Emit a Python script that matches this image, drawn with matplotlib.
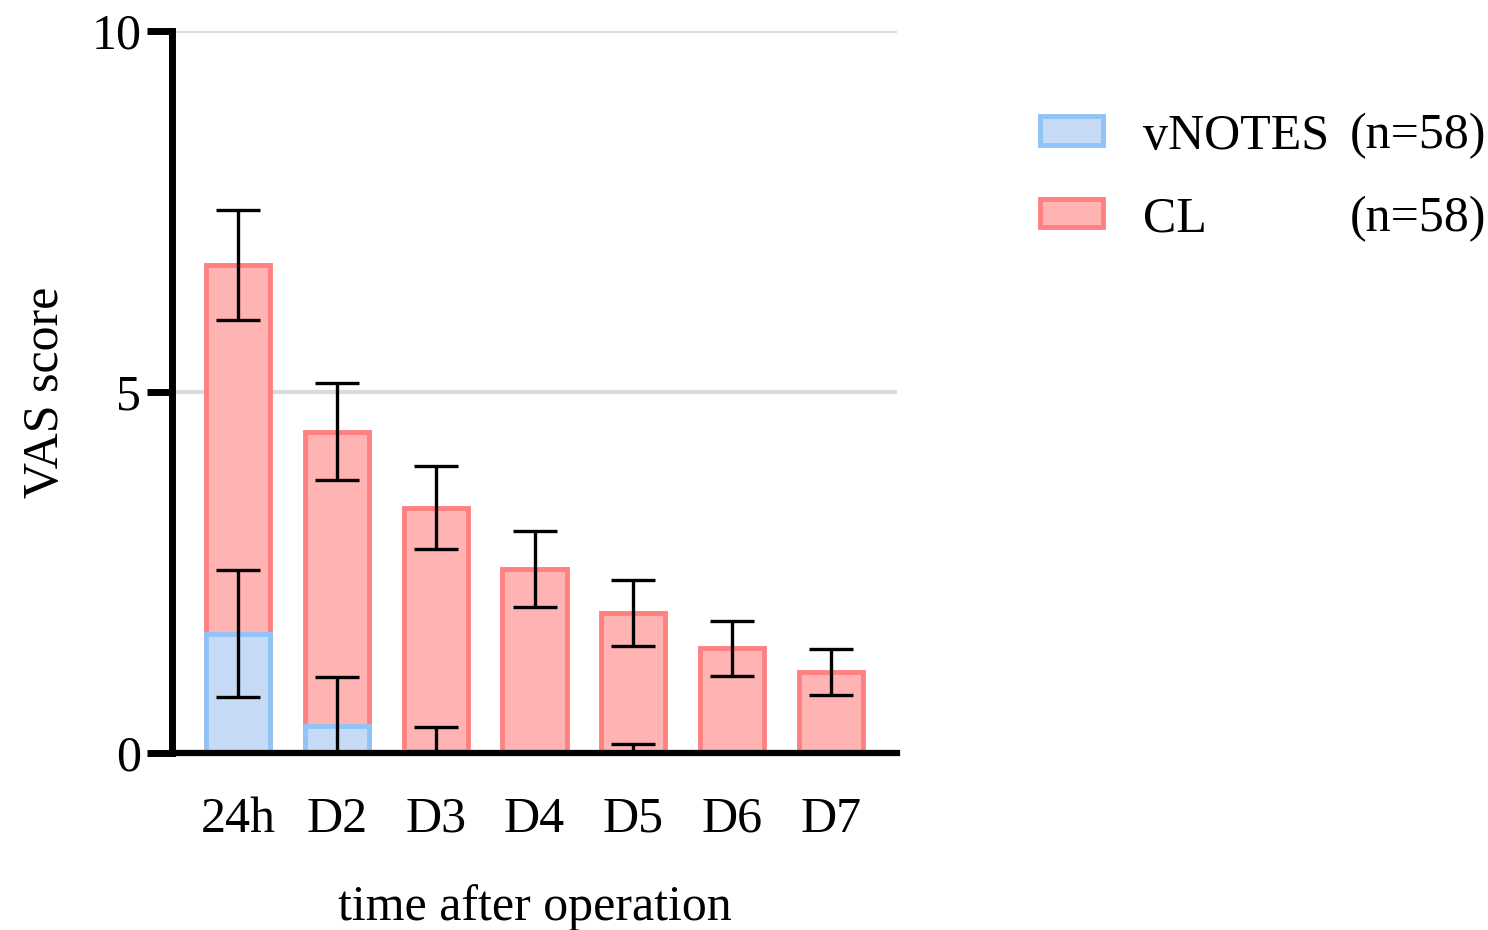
import matplotlib
matplotlib.use("Agg")
import matplotlib.pyplot as plt
import numpy as np
from matplotlib.patches import Patch

categories = ["24h", "D2", "D3", "D4", "D5", "D6", "D7"]
cl_mean = [6.76, 4.45, 3.40, 2.55, 1.94, 1.45, 1.12]
cl_sd = [0.76, 0.67, 0.58, 0.53, 0.46, 0.38, 0.32]
vn_mean = [1.65, 0.37, 0.03, 0.0, 0.02, 0.0, 0.0]
vn_sd = [0.88, 0.68, 0.33, 0.0, 0.10, 0.0, 0.0]
legend_labels = ["vNOTES", "CL"]
legend_n = ["(n=58)", "(n=58)"]

plt.rcParams['font.family'] = ['Liberation Serif', 'DejaVu Serif']
FS = 36

fig = plt.figure(figsize=(14.88, 9.3), dpi=100)
ax = fig.add_axes([172/1488, 1-753/930, (897-172)/1488, (753-31)/930])

x = np.arange(len(categories))
w = 0.65
red_face = "#FFB3B3"
red_edge = "#FF8080"
blue_face = "#C6DAF6"
blue_edge = "#90C4F8"

ax.bar(x, cl_mean, width=w, color=red_face, edgecolor=red_edge, linewidth=3.5, zorder=2)
ax.errorbar(x, cl_mean, yerr=cl_sd, fmt='none', ecolor='black', elinewidth=2.4,
            capsize=16, capthick=2.4, zorder=4)
ax.bar(x, vn_mean, width=w, color=blue_face, edgecolor=blue_edge, linewidth=3.5, zorder=3)
vx = [xi for xi, s in zip(x, vn_sd) if s > 0]
vm = [m for m, s in zip(vn_mean, vn_sd) if s > 0]
vs = [s for s in vn_sd if s > 0]
ax.errorbar(vx, vm, yerr=vs, fmt='none', ecolor='black', elinewidth=2.4,
            capsize=16, capthick=2.4, zorder=4)

ax.set_xlim(-0.667, 6.667)
ax.set_ylim(0, 10)
ax.set_yticks([0, 5, 10])
ax.set_yticklabels(["0", "5", "10"], fontsize=FS)
ax.set_xticks(x)
ax.set_xticklabels(categories, fontsize=FS)
ax.tick_params(axis='x', length=0, pad=31)
ax.tick_params(axis='y', length=18, width=5, pad=4)
for yv in [5, 10]:
    ax.axhline(yv, color="#DCDCDC", linewidth=3, zorder=1)
for s in ["top", "right"]:
    ax.spines[s].set_visible(False)
ax.spines["left"].set_linewidth(5)
ax.spines["bottom"].set_linewidth(4.5)
ax.spines["left"].set_zorder(5)
ax.spines["bottom"].set_zorder(5)

ax.set_xlabel("time after operation", fontsize=FS, labelpad=30)
ax.set_ylabel("VAS score", fontsize=FS, labelpad=16)

handles = [Patch(facecolor=blue_face, edgecolor=blue_edge, linewidth=3.5),
           Patch(facecolor=red_face, edgecolor=red_edge, linewidth=3.5)]
leg = fig.legend(handles, legend_labels, loc='upper left',
                 bbox_to_anchor=(1040/1488, 1-113/930), frameon=False, fontsize=FS,
                 handlelength=1.26, handleheight=0.5, handletextpad=0.8, labelspacing=0.72,
                 borderaxespad=0, borderpad=0)
fig.canvas.draw()
for t, n in zip(leg.get_texts(), legend_n):
    bb = t.get_window_extent()
    yc = (bb.y0 + bb.y1) / 2 / fig.dpi / fig.get_figheight()
    fig.text(1486/1488, yc, n, ha='right', va='center', fontsize=FS)

fig.savefig("out.png", dpi=100)
